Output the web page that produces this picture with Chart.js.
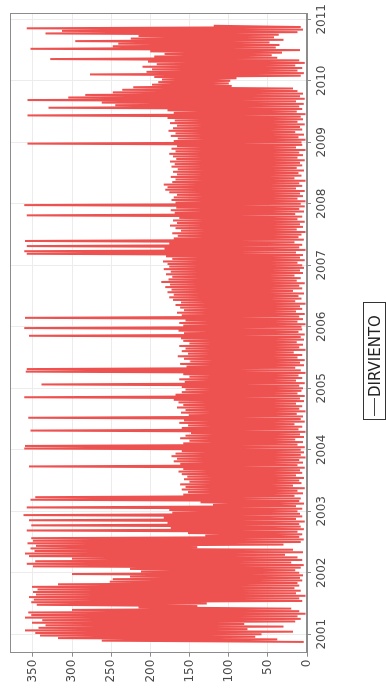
<!DOCTYPE html>
<html>
<head>
<meta charset="utf-8">
<script src="https://cdn.jsdelivr.net/npm/chart.js@4/dist/chart.umd.min.js"></script>
<style>
  html, body { margin: 0; padding: 0; background: #fff; overflow: hidden; }
  body { width: 386px; height: 690px; position: relative; }
  /* the whole figure is laid out landscape and turned a quarter turn */
  #stage {
    position: absolute; left: 0; top: 690px;
    width: 690px; height: 386px;
    transform-origin: 0 0; transform: rotate(-90deg);
    background: #fff;
  }
  #chart { position: absolute; left: 0; top: 0; }
  #legend {
    position: absolute; left: 270px; top: 363px;
    width: 118px; height: 23px; box-sizing: border-box;
    border: 1px solid #333; background: #fff;
    font: 15px "DejaVu Sans", sans-serif; color: #222;
    display: flex; align-items: center; white-space: nowrap;
  }
  #legend .swatch { display: inline-block; width: 18px; border-top: 1px solid #444; margin: 0 1px 0 3px; }
</style>
</head>
<body>
<div id="stage">
  <canvas id="chart" width="690" height="386"></canvas>
  <div id="legend"><span class="swatch"></span><span>DIRVIENTO</span></div>
</div>
<script>
// Wind direction (degrees): successive low / high readings, 48 readings per year.
const dir2000 = [4,262, 38,318, 66,341];
const dir2001 = [58,347, 18,360, 76,343, 30,334, 80,351, 15,338, 8,360, 12,352, 2,356, 10,300, 20,215, 140,345,
                 128,352, 6,349, 10,355, 2,346, 14,350, 8,344, 16,351, 10,318, 12,252, 6,248, 9,226, 5,300];
const dir2002 = [10,212, 15,226, 8,350, 4,358, 20,347, 6,300, 12,355, 28,360, 5,348, 18,353, 140,346, 30,357,
                 8,350, 4,352, 10,130, 6,152, 12,358, 4,174, 8,352, 10,178, 3,355, 14,183, 6,362, 9,172];
const dir2003 = [12,176, 6,358, 14,120, 4,136, 10,353, 8,347, 16,158, 5,152, 12,160, 3,155, 18,162, 7,150,
                 10,157, 4,153, 14,160, 6,164, 9,158, 3,355, 12,162, 5,170, 10,166, 2,173, 8,168, 4,160];
const dir2004 = [8,361, 3,360, 12,158, 5,150, 15,162, 4,155, 9,148, 2,353, 11,160, 6,152, 16,163, 3,157,
                 8,356, 5,151, 13,161, 2,155, 10,166, 6,158, 14,164, 4,170, 9,361, 3,168, 12,160, 7,155];
const dir2005 = [5,160, 10,339, 3,156, 14,163, 6,150, 11,158, 2,359, 8,358, 15,154, 4,162, 9,149, 3,157,
                 12,165, 6,152, 17,160, 2,155, 10,163, 5,150, 13,158, 4,161, 8,355, 3,157, 11,164, 6,361];
const dir2006 = [7,158, 2,163, 12,155, 5,360, 10,160, 3,166, 14,157, 6,162, 9,168, 2,161, 15,171, 7,176,
                 11,170, 4,178, 18,173, 6,181, 10,175, 3,186, 13,177, 8,172, 16,180, 5,174, 9,183, 4,176];
const dir2007 = [6,178, 12,184, 3,172, 9,180, 5,358, 14,361, 2,182, 10,358, 6,176, 16,360, 4,170, 11,165,
                 7,172, 2,161, 13,168, 5,175, 9,166, 3,171, 12,163, 6,358, 15,169, 4,174, 10,167, 3,361];
const dir2008 = [8,168, 2,173, 12,170, 5,166, 9,176, 3,181, 14,178, 6,183, 10,172, 2,168, 16,174, 7,166,
                 11,171, 4,165, 13,173, 6,169, 9,175, 3,167, 12,171, 5,176, 10,168, 2,173, 14,166, 6,357];
const dir2009 = [7,170, 2,165, 11,174, 4,168, 15,177, 6,171, 9,166, 3,175, 12,169, 5,178, 8,357, 2,170,
                 13,178, 6,330, 10,245, 4,262, 14,357, 3,305, 9,283, 5,248, 12,236, 18,222, 96,198, 100,190];
const dir2010 = [98,185, 90,195, 8,277, 4,205, 12,198, 6,210, 15,192, 3,203, 10,328, 38,195, 45,182, 32,200,
                 9,353, 40,248, 35,241, 48,296, 30,225, 42,215, 36,334, 12,313, 5,358, 8,119];

const years = [2000, 2001, 2002, 2003, 2004, 2005, 2006, 2007, 2008, 2009, 2010];
const yearSeries = [dir2000, dir2001, dir2002, dir2003, dir2004, dir2005, dir2006, dir2007, dir2008, dir2009, dir2010];
const firstReading = { 2000: 42 };   // the record begins in November 2000
const readingsPerYear = 48;

const yTicks = [0, 50, 100, 150, 200, 250, 300, 350];
const xTicks = [2001, 2002, 2003, 2004, 2005, 2006, 2007, 2008, 2009, 2010, 2011];
const seriesName = 'DIRVIENTO';

const points = [];
years.forEach((yr, k) => {
  const off = firstReading[yr] || 0;
  yearSeries[k].forEach((v, i) => points.push({ x: yr + (off + i) / readingsPerYear, y: v }));
});

const plotFrame = {
  id: 'plotFrame',
  afterDraw(chart) {
    const { ctx, chartArea: a } = chart;
    ctx.save();
    ctx.strokeStyle = '#8c8c8c';
    ctx.lineWidth = 1;
    ctx.strokeRect(Math.round(a.left) + 0.5, Math.round(a.top) + 0.5,
                   Math.round(a.right - a.left) - 1, Math.round(a.bottom - a.top) - 1);
    ctx.restore();
  }
};

Chart.defaults.font.family = '"DejaVu Sans", sans-serif';
Chart.defaults.font.size = 12;
Chart.defaults.color = '#4a4a4a';

new Chart(document.getElementById('chart'), {
  type: 'line',
  data: {
    datasets: [{
      label: seriesName,
      data: points,
      borderColor: 'rgb(238, 82, 80)',
      borderWidth: 2,
      borderJoinStyle: 'bevel',
      pointRadius: 0,
      tension: 0
    }]
  },
  options: {
    responsive: false,
    animation: false,
    devicePixelRatio: 1,
    parsing: false,
    normalized: true,
    layout: { padding: { left: 0, right: 8, top: 8, bottom: 0 } },
    plugins: { legend: { display: false }, tooltip: { enabled: false } },
    scales: {
      x: {
        type: 'linear',
        min: 2000.70,
        max: 2011.10,
        afterBuildTicks: s => { s.ticks = xTicks.map(v => ({ value: v })); },
        afterFit: s => { s.height = 79; },
        ticks: { callback: v => String(v), padding: 4, maxRotation: 0, autoSkip: false },
        grid: { color: '#ececec', tickColor: '#8c8c8c', tickLength: 4 },
        border: { color: '#8c8c8c' }
      },
      y: {
        min: 0,
        max: 379,
        afterBuildTicks: s => { s.ticks = yTicks.map(v => ({ value: v })); },
        afterFit: s => { s.width = 37.3; },
        ticks: { padding: 3, autoSkip: false },
        grid: { color: '#ececec', tickColor: '#8c8c8c', tickLength: 4 },
        border: { color: '#8c8c8c' }
      }
    }
  },
  plugins: [plotFrame]
});
</script>
</body>
</html>
